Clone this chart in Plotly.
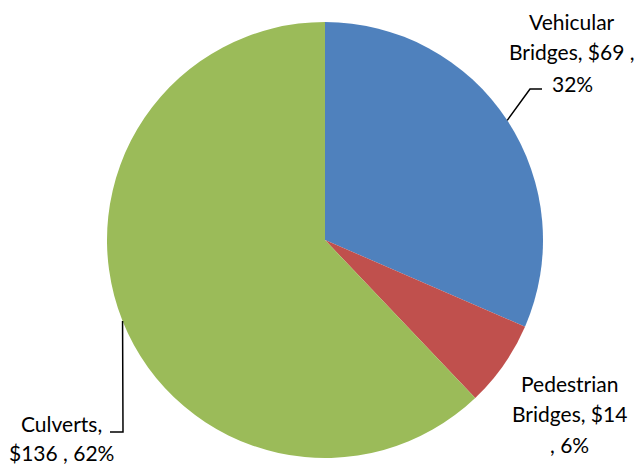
import math
import plotly.graph_objects as go

categories = ["Vehicular Bridges", "Pedestrian Bridges", "Culverts"]
values = [69, 14, 136]
percents = [32, 6, 62]
label_lines = [
    ["Vehicular", "Bridges, $69 ,", "32%"],
    ["Pedestrian", "Bridges, $14", ", 6%"],
    ["Culverts,", "$136 , 62%"],
]
colors = ["#4F81BD", "#C0504D", "#9BBB59"]

OFF = 8  # page body margin
W, H = 643 - OFF, 464 - OFF
CX, CY, R = 325, 240, 218
FONT = "Lato"


def px(x):
    return (x - OFF) / W


def py(y):
    return 1 - (y - OFF) / H


fig = go.Figure(
    go.Pie(
        labels=categories,
        values=values,
        sort=False,
        direction="clockwise",
        rotation=0,
        marker=dict(colors=colors, line=dict(width=0)),
        textinfo="none",
        hoverinfo="label+value+percent",
        domain=dict(x=[px(CX - R), px(CX + R)], y=[py(CY + R), py(CY - R)]),
        showlegend=False,
    )
)

# label text placement (pixels): center x, first line y, line spacing
label_pos = [(572, 21, 31), (569, 383, 30.5), (61, 423, 29)]
annotations = []
for lines, (lx, ly, sp) in zip(label_lines, label_pos):
    for i, t in enumerate(lines):
        annotations.append(
            dict(
                x=px(lx), y=py(ly + i * sp), xref="paper", yref="paper",
                text=t, showarrow=False, xanchor="center", yanchor="middle",
                font=dict(family=FONT, size=21, color="#000000"),
            )
        )

# leader lines: start at slice mid-angle on the circumference
total = sum(values)
cum = 0
mids = []
for v in values:
    mids.append((cum + v / 2) / total * 2 * math.pi)
    cum += v

def edge(idx):
    a = mids[idx]
    return CX + R * math.sin(a), CY - R * math.cos(a)

shapes = []
leaders = {0: [(530, 89), (542, 89)], 2: [(123, 432), (110, 432)]}
for idx, pts in leaders.items():
    sx, sy = edge(idx)
    path_pts = [(sx, sy)] + pts
    d = "M " + " L ".join(f"{px(x)},{py(y)}" for x, y in path_pts)
    shapes.append(dict(type="path", path=d, xref="paper", yref="paper",
                       line=dict(color="#000000", width=1.5)))

fig.update_layout(
    width=W, height=H,
    margin=dict(l=0, r=0, t=0, b=0),
    paper_bgcolor="#FFFFFF",
    plot_bgcolor="#FFFFFF",
    annotations=annotations,
    shapes=shapes,
    font=dict(family=FONT),
)

fig.write_html("out.html")
